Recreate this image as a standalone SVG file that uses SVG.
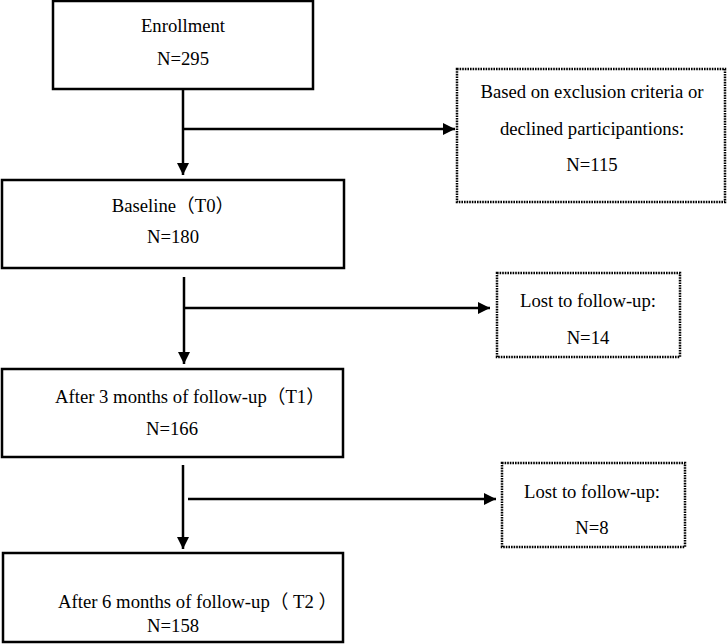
<svg xmlns="http://www.w3.org/2000/svg" width="727" height="644" viewBox="0 0 727 644">
<defs>
<style>
.box{fill:#fff;stroke:#000;stroke-width:2.5}
.dot{fill:#fff;stroke:#000;stroke-width:2.5;stroke-dasharray:1.6 1}
.ln{fill:none;stroke:#000;stroke-width:2.5}
text{font-family:"Liberation Serif","Noto Sans CJK SC",serif;font-size:18.7px;fill:#000}
.c{text-anchor:middle}
</style>
<marker id="ah" markerUnits="userSpaceOnUse" markerWidth="14" markerHeight="14" refX="12" refY="6" orient="auto">
<path d="M0,0 L12,6 L0,12 Z" fill="#000"/>
</marker>
</defs>
<g id="connectors">
<path class="ln" d="M183,89 V175" marker-end="url(#ah)"/>
<path class="ln" d="M183,129 H455" marker-end="url(#ah)"/>
<path class="ln" d="M184,277 V364" marker-end="url(#ah)"/>
<path class="ln" d="M184,308 H490" marker-end="url(#ah)"/>
<path class="ln" d="M183,465 V549" marker-end="url(#ah)"/>
<path class="ln" d="M188,499 H496" marker-end="url(#ah)"/>
</g>
<g id="enrollment">
<rect class="box" x="53" y="1" width="260" height="88"/>
<text class="c" x="183" y="32">Enrollment</text>
<text class="c" x="183" y="65">N=295</text>
</g>
<g id="excluded">
<rect class="dot" x="457" y="69" width="268" height="133"/>
<text class="c" x="592" y="98">Based on exclusion criteria or</text>
<text class="c" x="592" y="135">declined participantions:</text>
<text class="c" x="592" y="171">N=115</text>
</g>
<g id="baseline">
<rect class="box" x="2" y="180" width="342" height="88"/>
<text class="c" x="173" y="212">Baseline（T0）</text>
<text class="c" x="173" y="243">N=180</text>
</g>
<g id="lost1">
<rect class="dot" x="497" y="273" width="183" height="84"/>
<text class="c" x="588" y="307">Lost to follow-up:</text>
<text class="c" x="588" y="344">N=14</text>
</g>
<g id="t1">
<rect class="box" x="2" y="369" width="341" height="88"/>
<text x="55" y="403">After 3 months of follow-up（T1）</text>
<text class="c" x="172" y="435">N=166</text>
</g>
<g id="lost2">
<rect class="dot" x="502" y="463" width="183" height="84"/>
<text class="c" x="592" y="498">Lost to follow-up:</text>
<text class="c" x="592" y="534">N=8</text>
</g>
<g id="t2">
<rect class="box" x="3" y="553" width="340" height="89"/>
<text x="58" y="608">After 6 months of follow-up（ T2 ）</text>
<text x="147" y="632">N=158</text>
</g>
</svg>
